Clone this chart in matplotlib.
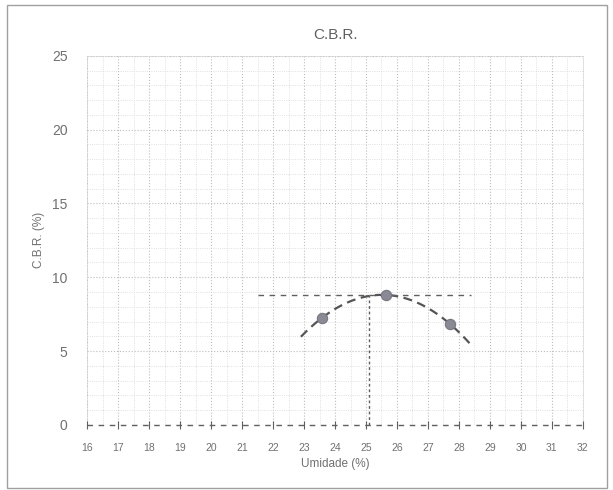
import numpy as np
import matplotlib
matplotlib.use("Agg")
import matplotlib.pyplot as plt
from matplotlib.ticker import MultipleLocator

plt.rcParams['font.family'] = ['Liberation Sans', 'DejaVu Sans']

# Data
moisture = [23.58, 25.65, 27.7]      # Umidade (%)
cbr = [7.25, 8.8, 6.85]              # C.B.R. (%)
opt_moisture = 25.1
max_cbr = 8.8
curve_range = [22.9, 28.35]
hline_range = [21.5, 28.4]
x_ticks = list(range(16, 33))
y_ticks = [0, 5, 10, 15, 20, 25]

fig = plt.figure(figsize=(6.13, 4.90), dpi=100)
ax = fig.add_axes([0.142, 0.133, 0.809, 0.753])

ax.set_xlim(16, 32)
ax.set_ylim(0, 25)
ax.set_xticks(x_ticks)
ax.set_yticks(y_ticks)
ax.xaxis.set_minor_locator(MultipleLocator(0.5))
ax.yaxis.set_minor_locator(MultipleLocator(1))
ax.grid(which='major', color='#bdbdbd', linestyle=':', linewidth=0.8)
ax.grid(which='minor', color='#d6d6d6', linestyle=':', linewidth=0.6)
ax.set_axisbelow(True)

for s in ax.spines.values():
    s.set_color('#d0d0d0')
    s.set_linewidth(0.6)
    s.set_linestyle(':')
ax.spines['bottom'].set_visible(False)

ax.tick_params(axis='both', which='both', length=0, colors='#707070')
ax.tick_params(axis='x', labelsize=7.5, pad=13)
ax.tick_params(axis='y', labelsize=10, pad=14)

# zero line with tick crosses
ax.plot([16, 32], [0, 0], color='#606060', linestyle=(0, (4, 4)), linewidth=1.0,
        zorder=5, clip_on=False)
ax.plot(x_ticks, [0] * len(x_ticks), linestyle='none', marker='|', markersize=6,
        color='#606060', markeredgewidth=0.8, zorder=5, clip_on=False)

# fitted curve
coef = np.polyfit(moisture, cbr, 2)
xx = np.linspace(curve_range[0], curve_range[1], 200)
ax.plot(xx, np.polyval(coef, xx), color='#555555', linestyle=(0, (4, 2.5)),
        linewidth=1.6, zorder=3)

# max line and optimum moisture line
ax.plot(hline_range, [max_cbr, max_cbr], color='#606060', linestyle=(0, (4, 4)),
        linewidth=1.0, zorder=3)
ax.plot([opt_moisture, opt_moisture], [0, max_cbr], color='#606060',
        linestyle=(0, (2, 2)), linewidth=1.0, zorder=3)

ax.scatter(moisture, cbr, s=55, color='#8a8a96', edgecolor='#777780',
           linewidth=0.8, zorder=4)

ax.set_title('C.B.R.', fontsize=11, color='#606060', pad=12)
ax.set_xlabel('Umidade (%)', fontsize=8.5, color='#707070', labelpad=4)
ax.set_ylabel('C.B.R. (%)', fontsize=8.5, color='#707070', labelpad=5)

# outer frame
fig.patches.append(plt.Rectangle((0.012, 0.005), 0.978, 0.985, transform=fig.transFigure,
                                 fill=False, edgecolor='#a0a0a0', linewidth=1.0))

fig.savefig('out.png', dpi=100)
